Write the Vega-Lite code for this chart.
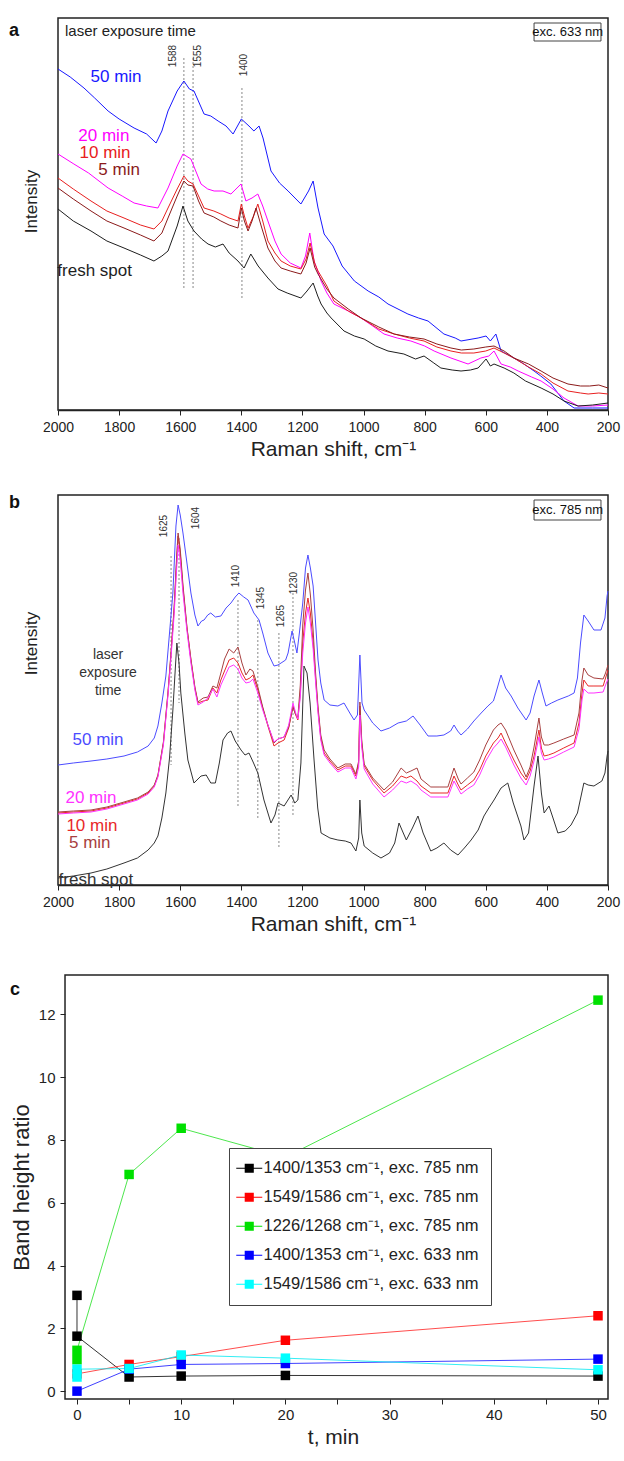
{
"$schema":"https://vega.github.io/schema/vega-lite/v6.json",
"background":"white",
"padding":{"left":8,"top":17,"right":4,"bottom":0},
"config":{"font":"Liberation Sans","view":{"stroke":"#222","strokeWidth":1.5},
 "axis":{"grid":false,"domainColor":"#222","tickColor":"#222","labelColor":"#222","titleColor":"#222","titleFontWeight":"normal","labelFont":"Liberation Sans","titleFont":"Liberation Sans","domainWidth":1.5},
 "text":{"font":"Liberation Sans"}},
"datasets":{
"aS":[
{"s":"50 min","w":2000,"i":341},{"s":"50 min","w":1960,"i":333},{"s":"50 min","w":1915,"i":322},{"s":"50 min","w":1880,"i":312},{"s":"50 min","w":1836,"i":299},{"s":"50 min","w":1800,"i":291},{"s":"50 min","w":1751,"i":282},{"s":"50 min","w":1710,"i":276},{"s":"50 min","w":1679,"i":267},{"s":"50 min","w":1660,"i":279},{"s":"50 min","w":1640,"i":299},{"s":"50 min","w":1610,"i":319},{"s":"50 min","w":1588,"i":329},{"s":"50 min","w":1570,"i":321},{"s":"50 min","w":1555,"i":319},{"s":"50 min","w":1522,"i":296},{"s":"50 min","w":1500,"i":294},{"s":"50 min","w":1476,"i":289},{"s":"50 min","w":1450,"i":284},{"s":"50 min","w":1427,"i":276},{"s":"50 min","w":1400,"i":291},{"s":"50 min","w":1375,"i":284},{"s":"50 min","w":1359,"i":279},{"s":"50 min","w":1342,"i":284},{"s":"50 min","w":1329,"i":272},{"s":"50 min","w":1303,"i":239},{"s":"50 min","w":1275,"i":227},{"s":"50 min","w":1247,"i":219},{"s":"50 min","w":1205,"i":206},{"s":"50 min","w":1180,"i":219},{"s":"50 min","w":1165,"i":229},{"s":"50 min","w":1149,"i":202},{"s":"50 min","w":1129,"i":176},{"s":"50 min","w":1100,"i":164},{"s":"50 min","w":1070,"i":144},{"s":"50 min","w":1030,"i":129},{"s":"50 min","w":985,"i":119},{"s":"50 min","w":950,"i":113},{"s":"50 min","w":920,"i":106},{"s":"50 min","w":855,"i":96},{"s":"50 min","w":820,"i":92},{"s":"50 min","w":789,"i":89},{"s":"50 min","w":737,"i":76},{"s":"50 min","w":700,"i":72},{"s":"50 min","w":681,"i":69},{"s":"50 min","w":625,"i":72},{"s":"50 min","w":599,"i":74},{"s":"50 min","w":585,"i":69},{"s":"50 min","w":567,"i":76},{"s":"50 min","w":550,"i":59},{"s":"50 min","w":508,"i":52},{"s":"50 min","w":480,"i":47},{"s":"50 min","w":442,"i":39},{"s":"50 min","w":420,"i":34},{"s":"50 min","w":387,"i":26},{"s":"50 min","w":344,"i":9},{"s":"50 min","w":311,"i":2},{"s":"50 min","w":250,"i":2},{"s":"50 min","w":200,"i":2},
{"s":"20 min","w":2000,"i":256},{"s":"20 min","w":1948,"i":246},{"s":"20 min","w":1900,"i":237},{"s":"20 min","w":1836,"i":222},{"s":"20 min","w":1790,"i":214},{"s":"20 min","w":1751,"i":207},{"s":"20 min","w":1710,"i":204},{"s":"20 min","w":1673,"i":202},{"s":"20 min","w":1640,"i":222},{"s":"20 min","w":1610,"i":244},{"s":"20 min","w":1591,"i":256},{"s":"20 min","w":1565,"i":251},{"s":"20 min","w":1532,"i":226},{"s":"20 min","w":1510,"i":221},{"s":"20 min","w":1489,"i":219},{"s":"20 min","w":1460,"i":219},{"s":"20 min","w":1434,"i":216},{"s":"20 min","w":1401,"i":226},{"s":"20 min","w":1385,"i":209},{"s":"20 min","w":1365,"i":212},{"s":"20 min","w":1346,"i":216},{"s":"20 min","w":1330,"i":204},{"s":"20 min","w":1313,"i":189},{"s":"20 min","w":1290,"i":169},{"s":"20 min","w":1270,"i":156},{"s":"20 min","w":1240,"i":147},{"s":"20 min","w":1205,"i":142},{"s":"20 min","w":1190,"i":154},{"s":"20 min","w":1176,"i":177},{"s":"20 min","w":1162,"i":149},{"s":"20 min","w":1139,"i":129},{"s":"20 min","w":1120,"i":117},{"s":"20 min","w":1097,"i":106},{"s":"20 min","w":1050,"i":99},{"s":"20 min","w":1008,"i":92},{"s":"20 min","w":970,"i":84},{"s":"20 min","w":933,"i":76},{"s":"20 min","w":890,"i":72},{"s":"20 min","w":845,"i":69},{"s":"20 min","w":800,"i":64},{"s":"20 min","w":769,"i":59},{"s":"20 min","w":714,"i":52},{"s":"20 min","w":658,"i":46},{"s":"20 min","w":616,"i":52},{"s":"20 min","w":590,"i":54},{"s":"20 min","w":573,"i":59},{"s":"20 min","w":550,"i":46},{"s":"20 min","w":520,"i":43},{"s":"20 min","w":494,"i":39},{"s":"20 min","w":450,"i":33},{"s":"20 min","w":419,"i":29},{"s":"20 min","w":380,"i":21},{"s":"20 min","w":344,"i":12},{"s":"20 min","w":298,"i":4},{"s":"20 min","w":250,"i":4},{"s":"20 min","w":200,"i":5},
{"s":"10 min","w":2000,"i":232},{"s":"10 min","w":1950,"i":221},{"s":"10 min","w":1892,"i":209},{"s":"10 min","w":1840,"i":199},{"s":"10 min","w":1784,"i":192},{"s":"10 min","w":1730,"i":185},{"s":"10 min","w":1686,"i":181},{"s":"10 min","w":1660,"i":189},{"s":"10 min","w":1640,"i":202},{"s":"10 min","w":1610,"i":221},{"s":"10 min","w":1588,"i":234},{"s":"10 min","w":1575,"i":229},{"s":"10 min","w":1558,"i":226},{"s":"10 min","w":1540,"i":214},{"s":"10 min","w":1522,"i":202},{"s":"10 min","w":1490,"i":199},{"s":"10 min","w":1467,"i":196},{"s":"10 min","w":1440,"i":192},{"s":"10 min","w":1411,"i":189},{"s":"10 min","w":1400,"i":206},{"s":"10 min","w":1390,"i":194},{"s":"10 min","w":1378,"i":182},{"s":"10 min","w":1360,"i":194},{"s":"10 min","w":1346,"i":206},{"s":"10 min","w":1330,"i":189},{"s":"10 min","w":1313,"i":169},{"s":"10 min","w":1290,"i":157},{"s":"10 min","w":1270,"i":149},{"s":"10 min","w":1240,"i":144},{"s":"10 min","w":1205,"i":141},{"s":"10 min","w":1188,"i":151},{"s":"10 min","w":1175,"i":167},{"s":"10 min","w":1160,"i":147},{"s":"10 min","w":1149,"i":139},{"s":"10 min","w":1120,"i":124},{"s":"10 min","w":1097,"i":109},{"s":"10 min","w":1050,"i":99},{"s":"10 min","w":1008,"i":92},{"s":"10 min","w":950,"i":81},{"s":"10 min","w":900,"i":76},{"s":"10 min","w":850,"i":72},{"s":"10 min","w":802,"i":69},{"s":"10 min","w":760,"i":63},{"s":"10 min","w":714,"i":59},{"s":"10 min","w":680,"i":57},{"s":"10 min","w":639,"i":57},{"s":"10 min","w":600,"i":59},{"s":"10 min","w":573,"i":62},{"s":"10 min","w":540,"i":57},{"s":"10 min","w":508,"i":52},{"s":"10 min","w":460,"i":43},{"s":"10 min","w":419,"i":36},{"s":"10 min","w":380,"i":27},{"s":"10 min","w":331,"i":19},{"s":"10 min","w":290,"i":17},{"s":"10 min","w":265,"i":16},{"s":"10 min","w":230,"i":17},{"s":"10 min","w":200,"i":16},
{"s":"5 min","w":2000,"i":222},{"s":"5 min","w":1950,"i":211},{"s":"5 min","w":1892,"i":199},{"s":"5 min","w":1840,"i":189},{"s":"5 min","w":1784,"i":182},{"s":"5 min","w":1730,"i":175},{"s":"5 min","w":1686,"i":169},{"s":"5 min","w":1660,"i":177},{"s":"5 min","w":1640,"i":192},{"s":"5 min","w":1610,"i":214},{"s":"5 min","w":1588,"i":229},{"s":"5 min","w":1575,"i":225},{"s":"5 min","w":1558,"i":224},{"s":"5 min","w":1540,"i":209},{"s":"5 min","w":1522,"i":197},{"s":"5 min","w":1490,"i":193},{"s":"5 min","w":1467,"i":189},{"s":"5 min","w":1440,"i":185},{"s":"5 min","w":1411,"i":182},{"s":"5 min","w":1400,"i":202},{"s":"5 min","w":1390,"i":189},{"s":"5 min","w":1378,"i":179},{"s":"5 min","w":1365,"i":189},{"s":"5 min","w":1352,"i":202},{"s":"5 min","w":1335,"i":184},{"s":"5 min","w":1313,"i":162},{"s":"5 min","w":1290,"i":149},{"s":"5 min","w":1270,"i":142},{"s":"5 min","w":1240,"i":139},{"s":"5 min","w":1205,"i":136},{"s":"5 min","w":1188,"i":147},{"s":"5 min","w":1175,"i":162},{"s":"5 min","w":1160,"i":143},{"s":"5 min","w":1149,"i":136},{"s":"5 min","w":1120,"i":121},{"s":"5 min","w":1097,"i":112},{"s":"5 min","w":1050,"i":101},{"s":"5 min","w":1008,"i":92},{"s":"5 min","w":950,"i":83},{"s":"5 min","w":900,"i":76},{"s":"5 min","w":850,"i":73},{"s":"5 min","w":802,"i":71},{"s":"5 min","w":760,"i":66},{"s":"5 min","w":714,"i":62},{"s":"5 min","w":680,"i":60},{"s":"5 min","w":639,"i":61},{"s":"5 min","w":600,"i":63},{"s":"5 min","w":573,"i":64},{"s":"5 min","w":540,"i":59},{"s":"5 min","w":508,"i":52},{"s":"5 min","w":460,"i":46},{"s":"5 min","w":419,"i":39},{"s":"5 min","w":380,"i":32},{"s":"5 min","w":331,"i":26},{"s":"5 min","w":290,"i":24},{"s":"5 min","w":260,"i":24},{"s":"5 min","w":230,"i":25},{"s":"5 min","w":200,"i":22},
{"s":"fresh spot","w":2000,"i":201},{"s":"fresh spot","w":1950,"i":189},{"s":"fresh spot","w":1892,"i":179},{"s":"fresh spot","w":1840,"i":169},{"s":"fresh spot","w":1784,"i":162},{"s":"fresh spot","w":1730,"i":155},{"s":"fresh spot","w":1686,"i":149},{"s":"fresh spot","w":1660,"i":154},{"s":"fresh spot","w":1640,"i":159},{"s":"fresh spot","w":1610,"i":184},{"s":"fresh spot","w":1591,"i":204},{"s":"fresh spot","w":1575,"i":189},{"s":"fresh spot","w":1555,"i":179},{"s":"fresh spot","w":1530,"i":171},{"s":"fresh spot","w":1509,"i":166},{"s":"fresh spot","w":1485,"i":163},{"s":"fresh spot","w":1460,"i":166},{"s":"fresh spot","w":1440,"i":157},{"s":"fresh spot","w":1411,"i":149},{"s":"fresh spot","w":1391,"i":142},{"s":"fresh spot","w":1369,"i":156},{"s":"fresh spot","w":1345,"i":144},{"s":"fresh spot","w":1313,"i":132},{"s":"fresh spot","w":1280,"i":121},{"s":"fresh spot","w":1250,"i":117},{"s":"fresh spot","w":1205,"i":112},{"s":"fresh spot","w":1185,"i":119},{"s":"fresh spot","w":1165,"i":127},{"s":"fresh spot","w":1150,"i":114},{"s":"fresh spot","w":1139,"i":106},{"s":"fresh spot","w":1120,"i":97},{"s":"fresh spot","w":1106,"i":92},{"s":"fresh spot","w":1064,"i":79},{"s":"fresh spot","w":1030,"i":74},{"s":"fresh spot","w":998,"i":71},{"s":"fresh spot","w":960,"i":64},{"s":"fresh spot","w":920,"i":59},{"s":"fresh spot","w":868,"i":56},{"s":"fresh spot","w":830,"i":51},{"s":"fresh spot","w":802,"i":54},{"s":"fresh spot","w":770,"i":47},{"s":"fresh spot","w":747,"i":42},{"s":"fresh spot","w":710,"i":40},{"s":"fresh spot","w":681,"i":39},{"s":"fresh spot","w":650,"i":40},{"s":"fresh spot","w":625,"i":42},{"s":"fresh spot","w":599,"i":51},{"s":"fresh spot","w":585,"i":44},{"s":"fresh spot","w":573,"i":46},{"s":"fresh spot","w":540,"i":42},{"s":"fresh spot","w":508,"i":37},{"s":"fresh spot","w":470,"i":29},{"s":"fresh spot","w":419,"i":22},{"s":"fresh spot","w":380,"i":16},{"s":"fresh spot","w":344,"i":9},{"s":"fresh spot","w":298,"i":4},{"s":"fresh spot","w":250,"i":5},{"s":"fresh spot","w":200,"i":7}
],
"bS":[
{"s":"50 min","w":2000,"i":120},{"s":"50 min","w":1950,"i":122},{"s":"50 min","w":1892,"i":124},{"s":"50 min","w":1840,"i":126},{"s":"50 min","w":1784,"i":129},{"s":"50 min","w":1740,"i":133},{"s":"50 min","w":1705,"i":139},{"s":"50 min","w":1685,"i":147},{"s":"50 min","w":1673,"i":159},{"s":"50 min","w":1660,"i":182},{"s":"50 min","w":1647,"i":209},{"s":"50 min","w":1635,"i":252},{"s":"50 min","w":1624,"i":292},{"s":"50 min","w":1614,"i":359},{"s":"50 min","w":1607,"i":380},{"s":"50 min","w":1600,"i":370},{"s":"50 min","w":1591,"i":352},{"s":"50 min","w":1578,"i":322},{"s":"50 min","w":1565,"i":292},{"s":"50 min","w":1552,"i":270},{"s":"50 min","w":1542,"i":259},{"s":"50 min","w":1530,"i":264},{"s":"50 min","w":1522,"i":265},{"s":"50 min","w":1510,"i":270},{"s":"50 min","w":1500,"i":272},{"s":"50 min","w":1485,"i":268},{"s":"50 min","w":1467,"i":269},{"s":"50 min","w":1450,"i":277},{"s":"50 min","w":1434,"i":282},{"s":"50 min","w":1420,"i":288},{"s":"50 min","w":1408,"i":292},{"s":"50 min","w":1392,"i":288},{"s":"50 min","w":1378,"i":285},{"s":"50 min","w":1359,"i":272},{"s":"50 min","w":1342,"i":265},{"s":"50 min","w":1330,"i":252},{"s":"50 min","w":1313,"i":232},{"s":"50 min","w":1293,"i":219},{"s":"50 min","w":1280,"i":220},{"s":"50 min","w":1270,"i":222},{"s":"50 min","w":1255,"i":225},{"s":"50 min","w":1247,"i":232},{"s":"50 min","w":1234,"i":254},{"s":"50 min","w":1225,"i":242},{"s":"50 min","w":1218,"i":232},{"s":"50 min","w":1210,"i":252},{"s":"50 min","w":1199,"i":282},{"s":"50 min","w":1190,"i":317},{"s":"50 min","w":1182,"i":330},{"s":"50 min","w":1174,"i":317},{"s":"50 min","w":1165,"i":299},{"s":"50 min","w":1157,"i":262},{"s":"50 min","w":1149,"i":225},{"s":"50 min","w":1140,"i":202},{"s":"50 min","w":1129,"i":185},{"s":"50 min","w":1110,"i":180},{"s":"50 min","w":1084,"i":179},{"s":"50 min","w":1064,"i":182},{"s":"50 min","w":1045,"i":172},{"s":"50 min","w":1031,"i":165},{"s":"50 min","w":1020,"i":170},{"s":"50 min","w":1012,"i":230},{"s":"50 min","w":1005,"i":182},{"s":"50 min","w":998,"i":175},{"s":"50 min","w":970,"i":162},{"s":"50 min","w":943,"i":154},{"s":"50 min","w":915,"i":157},{"s":"50 min","w":887,"i":162},{"s":"50 min","w":860,"i":164},{"s":"50 min","w":838,"i":169},{"s":"50 min","w":815,"i":160},{"s":"50 min","w":789,"i":149},{"s":"50 min","w":760,"i":149},{"s":"50 min","w":737,"i":150},{"s":"50 min","w":715,"i":154},{"s":"50 min","w":704,"i":160},{"s":"50 min","w":692,"i":154},{"s":"50 min","w":681,"i":150},{"s":"50 min","w":660,"i":156},{"s":"50 min","w":639,"i":164},{"s":"50 min","w":615,"i":172},{"s":"50 min","w":593,"i":179},{"s":"50 min","w":575,"i":184},{"s":"50 min","w":567,"i":192},{"s":"50 min","w":550,"i":210},{"s":"50 min","w":535,"i":197},{"s":"50 min","w":517,"i":189},{"s":"50 min","w":495,"i":177},{"s":"50 min","w":468,"i":165},{"s":"50 min","w":455,"i":172},{"s":"50 min","w":442,"i":189},{"s":"50 min","w":426,"i":205},{"s":"50 min","w":415,"i":192},{"s":"50 min","w":403,"i":179},{"s":"50 min","w":385,"i":182},{"s":"50 min","w":364,"i":185},{"s":"50 min","w":330,"i":189},{"s":"50 min","w":311,"i":192},{"s":"50 min","w":300,"i":207},{"s":"50 min","w":290,"i":242},{"s":"50 min","w":279,"i":270},{"s":"50 min","w":265,"i":264},{"s":"50 min","w":246,"i":255},{"s":"50 min","w":223,"i":255},{"s":"50 min","w":210,"i":267},{"s":"50 min","w":203,"i":289},{"s":"50 min","w":200,"i":294},
{"s":"10 min","w":2000,"i":72},{"s":"10 min","w":1950,"i":73},{"s":"10 min","w":1892,"i":74},{"s":"10 min","w":1840,"i":77},{"s":"10 min","w":1784,"i":82},{"s":"10 min","w":1740,"i":86},{"s":"10 min","w":1705,"i":92},{"s":"10 min","w":1685,"i":99},{"s":"10 min","w":1673,"i":109},{"s":"10 min","w":1655,"i":142},{"s":"10 min","w":1640,"i":192},{"s":"10 min","w":1630,"i":232},{"s":"10 min","w":1620,"i":275},{"s":"10 min","w":1612,"i":322},{"s":"10 min","w":1607,"i":349},{"s":"10 min","w":1600,"i":332},{"s":"10 min","w":1591,"i":297},{"s":"10 min","w":1578,"i":257},{"s":"10 min","w":1565,"i":225},{"s":"10 min","w":1552,"i":197},{"s":"10 min","w":1542,"i":182},{"s":"10 min","w":1525,"i":184},{"s":"10 min","w":1509,"i":185},{"s":"10 min","w":1493,"i":197},{"s":"10 min","w":1480,"i":192},{"s":"10 min","w":1467,"i":205},{"s":"10 min","w":1455,"i":214},{"s":"10 min","w":1440,"i":225},{"s":"10 min","w":1425,"i":227},{"s":"10 min","w":1411,"i":222},{"s":"10 min","w":1398,"i":212},{"s":"10 min","w":1385,"i":205},{"s":"10 min","w":1372,"i":207},{"s":"10 min","w":1362,"i":210},{"s":"10 min","w":1346,"i":195},{"s":"10 min","w":1330,"i":177},{"s":"10 min","w":1313,"i":159},{"s":"10 min","w":1293,"i":139},{"s":"10 min","w":1280,"i":142},{"s":"10 min","w":1260,"i":145},{"s":"10 min","w":1245,"i":157},{"s":"10 min","w":1231,"i":179},{"s":"10 min","w":1222,"i":170},{"s":"10 min","w":1215,"i":165},{"s":"10 min","w":1207,"i":192},{"s":"10 min","w":1199,"i":242},{"s":"10 min","w":1190,"i":272},{"s":"10 min","w":1182,"i":287},{"s":"10 min","w":1174,"i":272},{"s":"10 min","w":1165,"i":242},{"s":"10 min","w":1157,"i":207},{"s":"10 min","w":1149,"i":175},{"s":"10 min","w":1140,"i":147},{"s":"10 min","w":1129,"i":132},{"s":"10 min","w":1110,"i":124},{"s":"10 min","w":1084,"i":115},{"s":"10 min","w":1060,"i":119},{"s":"10 min","w":1041,"i":119},{"s":"10 min","w":1025,"i":109},{"s":"10 min","w":1016,"i":122},{"s":"10 min","w":1012,"i":179},{"s":"10 min","w":1006,"i":142},{"s":"10 min","w":998,"i":119},{"s":"10 min","w":970,"i":105},{"s":"10 min","w":933,"i":92},{"s":"10 min","w":905,"i":99},{"s":"10 min","w":877,"i":109},{"s":"10 min","w":860,"i":107},{"s":"10 min","w":845,"i":109},{"s":"10 min","w":825,"i":104},{"s":"10 min","w":812,"i":99},{"s":"10 min","w":780,"i":92},{"s":"10 min","w":750,"i":92},{"s":"10 min","w":724,"i":92},{"s":"10 min","w":704,"i":109},{"s":"10 min","w":690,"i":100},{"s":"10 min","w":681,"i":95},{"s":"10 min","w":660,"i":100},{"s":"10 min","w":639,"i":105},{"s":"10 min","w":620,"i":115},{"s":"10 min","w":600,"i":129},{"s":"10 min","w":575,"i":142},{"s":"10 min","w":560,"i":147},{"s":"10 min","w":550,"i":152},{"s":"10 min","w":535,"i":142},{"s":"10 min","w":508,"i":125},{"s":"10 min","w":485,"i":112},{"s":"10 min","w":468,"i":105},{"s":"10 min","w":455,"i":114},{"s":"10 min","w":442,"i":129},{"s":"10 min","w":426,"i":155},{"s":"10 min","w":418,"i":137},{"s":"10 min","w":409,"i":129},{"s":"10 min","w":395,"i":130},{"s":"10 min","w":377,"i":132},{"s":"10 min","w":345,"i":137},{"s":"10 min","w":311,"i":142},{"s":"10 min","w":295,"i":162},{"s":"10 min","w":285,"i":192},{"s":"10 min","w":279,"i":205},{"s":"10 min","w":265,"i":199},{"s":"10 min","w":246,"i":199},{"s":"10 min","w":216,"i":199},{"s":"10 min","w":208,"i":207},{"s":"10 min","w":200,"i":215},
{"s":"5 min","w":2000,"i":73},{"s":"5 min","w":1950,"i":74},{"s":"5 min","w":1892,"i":75},{"s":"5 min","w":1840,"i":78},{"s":"5 min","w":1784,"i":83},{"s":"5 min","w":1740,"i":87},{"s":"5 min","w":1705,"i":93},{"s":"5 min","w":1685,"i":100},{"s":"5 min","w":1673,"i":110},{"s":"5 min","w":1655,"i":143},{"s":"5 min","w":1640,"i":193},{"s":"5 min","w":1630,"i":233},{"s":"5 min","w":1620,"i":278},{"s":"5 min","w":1612,"i":327},{"s":"5 min","w":1607,"i":352},{"s":"5 min","w":1600,"i":336},{"s":"5 min","w":1591,"i":300},{"s":"5 min","w":1578,"i":258},{"s":"5 min","w":1565,"i":226},{"s":"5 min","w":1552,"i":198},{"s":"5 min","w":1542,"i":183},{"s":"5 min","w":1525,"i":187},{"s":"5 min","w":1509,"i":188},{"s":"5 min","w":1493,"i":199},{"s":"5 min","w":1480,"i":197},{"s":"5 min","w":1467,"i":212},{"s":"5 min","w":1455,"i":226},{"s":"5 min","w":1440,"i":236},{"s":"5 min","w":1425,"i":232},{"s":"5 min","w":1411,"i":238},{"s":"5 min","w":1398,"i":222},{"s":"5 min","w":1385,"i":210},{"s":"5 min","w":1372,"i":216},{"s":"5 min","w":1362,"i":214},{"s":"5 min","w":1346,"i":198},{"s":"5 min","w":1330,"i":178},{"s":"5 min","w":1313,"i":160},{"s":"5 min","w":1293,"i":142},{"s":"5 min","w":1280,"i":146},{"s":"5 min","w":1260,"i":148},{"s":"5 min","w":1245,"i":158},{"s":"5 min","w":1231,"i":178},{"s":"5 min","w":1222,"i":170},{"s":"5 min","w":1215,"i":168},{"s":"5 min","w":1207,"i":200},{"s":"5 min","w":1199,"i":260},{"s":"5 min","w":1190,"i":295},{"s":"5 min","w":1182,"i":312},{"s":"5 min","w":1174,"i":290},{"s":"5 min","w":1165,"i":255},{"s":"5 min","w":1157,"i":212},{"s":"5 min","w":1149,"i":178},{"s":"5 min","w":1140,"i":150},{"s":"5 min","w":1129,"i":135},{"s":"5 min","w":1110,"i":126},{"s":"5 min","w":1084,"i":117},{"s":"5 min","w":1060,"i":121},{"s":"5 min","w":1041,"i":121},{"s":"5 min","w":1025,"i":111},{"s":"5 min","w":1016,"i":124},{"s":"5 min","w":1012,"i":183},{"s":"5 min","w":1006,"i":145},{"s":"5 min","w":998,"i":121},{"s":"5 min","w":970,"i":107},{"s":"5 min","w":933,"i":95},{"s":"5 min","w":905,"i":103},{"s":"5 min","w":877,"i":117},{"s":"5 min","w":860,"i":112},{"s":"5 min","w":845,"i":114},{"s":"5 min","w":825,"i":117},{"s":"5 min","w":812,"i":106},{"s":"5 min","w":780,"i":98},{"s":"5 min","w":750,"i":98},{"s":"5 min","w":724,"i":98},{"s":"5 min","w":704,"i":117},{"s":"5 min","w":690,"i":106},{"s":"5 min","w":681,"i":101},{"s":"5 min","w":660,"i":107},{"s":"5 min","w":639,"i":113},{"s":"5 min","w":620,"i":125},{"s":"5 min","w":600,"i":140},{"s":"5 min","w":575,"i":155},{"s":"5 min","w":560,"i":160},{"s":"5 min","w":550,"i":162},{"s":"5 min","w":535,"i":155},{"s":"5 min","w":508,"i":135},{"s":"5 min","w":485,"i":120},{"s":"5 min","w":468,"i":108},{"s":"5 min","w":455,"i":118},{"s":"5 min","w":442,"i":138},{"s":"5 min","w":426,"i":167},{"s":"5 min","w":418,"i":148},{"s":"5 min","w":409,"i":140},{"s":"5 min","w":395,"i":140},{"s":"5 min","w":377,"i":142},{"s":"5 min","w":345,"i":146},{"s":"5 min","w":311,"i":150},{"s":"5 min","w":295,"i":172},{"s":"5 min","w":285,"i":205},{"s":"5 min","w":279,"i":217},{"s":"5 min","w":265,"i":210},{"s":"5 min","w":246,"i":207},{"s":"5 min","w":216,"i":206},{"s":"5 min","w":208,"i":212},{"s":"5 min","w":200,"i":220},
{"s":"20 min","w":2000,"i":71},{"s":"20 min","w":1950,"i":72},{"s":"20 min","w":1892,"i":73},{"s":"20 min","w":1840,"i":76},{"s":"20 min","w":1784,"i":81},{"s":"20 min","w":1740,"i":85},{"s":"20 min","w":1705,"i":91},{"s":"20 min","w":1685,"i":98},{"s":"20 min","w":1673,"i":108},{"s":"20 min","w":1655,"i":140},{"s":"20 min","w":1640,"i":190},{"s":"20 min","w":1630,"i":228},{"s":"20 min","w":1620,"i":270},{"s":"20 min","w":1612,"i":315},{"s":"20 min","w":1607,"i":340},{"s":"20 min","w":1600,"i":325},{"s":"20 min","w":1591,"i":292},{"s":"20 min","w":1578,"i":254},{"s":"20 min","w":1565,"i":222},{"s":"20 min","w":1552,"i":195},{"s":"20 min","w":1542,"i":180},{"s":"20 min","w":1525,"i":183},{"s":"20 min","w":1509,"i":187},{"s":"20 min","w":1493,"i":196},{"s":"20 min","w":1480,"i":188},{"s":"20 min","w":1467,"i":200},{"s":"20 min","w":1455,"i":208},{"s":"20 min","w":1440,"i":218},{"s":"20 min","w":1425,"i":220},{"s":"20 min","w":1411,"i":216},{"s":"20 min","w":1398,"i":207},{"s":"20 min","w":1385,"i":202},{"s":"20 min","w":1372,"i":203},{"s":"20 min","w":1362,"i":206},{"s":"20 min","w":1346,"i":192},{"s":"20 min","w":1330,"i":175},{"s":"20 min","w":1313,"i":160},{"s":"20 min","w":1293,"i":143},{"s":"20 min","w":1280,"i":146},{"s":"20 min","w":1260,"i":148},{"s":"20 min","w":1245,"i":160},{"s":"20 min","w":1231,"i":182},{"s":"20 min","w":1222,"i":172},{"s":"20 min","w":1215,"i":166},{"s":"20 min","w":1207,"i":188},{"s":"20 min","w":1199,"i":232},{"s":"20 min","w":1190,"i":262},{"s":"20 min","w":1182,"i":278},{"s":"20 min","w":1174,"i":262},{"s":"20 min","w":1165,"i":236},{"s":"20 min","w":1157,"i":203},{"s":"20 min","w":1149,"i":172},{"s":"20 min","w":1140,"i":145},{"s":"20 min","w":1129,"i":130},{"s":"20 min","w":1110,"i":122},{"s":"20 min","w":1084,"i":113},{"s":"20 min","w":1060,"i":117},{"s":"20 min","w":1041,"i":117},{"s":"20 min","w":1025,"i":106},{"s":"20 min","w":1016,"i":118},{"s":"20 min","w":1012,"i":170},{"s":"20 min","w":1006,"i":138},{"s":"20 min","w":998,"i":116},{"s":"20 min","w":970,"i":101},{"s":"20 min","w":933,"i":88},{"s":"20 min","w":905,"i":95},{"s":"20 min","w":877,"i":104},{"s":"20 min","w":860,"i":102},{"s":"20 min","w":845,"i":104},{"s":"20 min","w":825,"i":100},{"s":"20 min","w":812,"i":95},{"s":"20 min","w":780,"i":88},{"s":"20 min","w":750,"i":88},{"s":"20 min","w":724,"i":88},{"s":"20 min","w":704,"i":104},{"s":"20 min","w":690,"i":96},{"s":"20 min","w":681,"i":91},{"s":"20 min","w":660,"i":96},{"s":"20 min","w":639,"i":100},{"s":"20 min","w":620,"i":110},{"s":"20 min","w":600,"i":124},{"s":"20 min","w":575,"i":137},{"s":"20 min","w":560,"i":142},{"s":"20 min","w":550,"i":146},{"s":"20 min","w":535,"i":138},{"s":"20 min","w":508,"i":120},{"s":"20 min","w":485,"i":107},{"s":"20 min","w":468,"i":100},{"s":"20 min","w":455,"i":109},{"s":"20 min","w":442,"i":124},{"s":"20 min","w":426,"i":148},{"s":"20 min","w":418,"i":132},{"s":"20 min","w":409,"i":125},{"s":"20 min","w":395,"i":126},{"s":"20 min","w":377,"i":128},{"s":"20 min","w":345,"i":133},{"s":"20 min","w":311,"i":138},{"s":"20 min","w":295,"i":156},{"s":"20 min","w":285,"i":185},{"s":"20 min","w":279,"i":196},{"s":"20 min","w":265,"i":192},{"s":"20 min","w":246,"i":192},{"s":"20 min","w":216,"i":193},{"s":"20 min","w":208,"i":200},{"s":"20 min","w":200,"i":206},
{"s":"fresh spot","w":2000,"i":7},{"s":"fresh spot","w":1950,"i":9},{"s":"fresh spot","w":1892,"i":12},{"s":"fresh spot","w":1840,"i":16},{"s":"fresh spot","w":1784,"i":22},{"s":"fresh spot","w":1740,"i":27},{"s":"fresh spot","w":1705,"i":35},{"s":"fresh spot","w":1685,"i":42},{"s":"fresh spot","w":1673,"i":49},{"s":"fresh spot","w":1660,"i":67},{"s":"fresh spot","w":1647,"i":92},{"s":"fresh spot","w":1635,"i":127},{"s":"fresh spot","w":1624,"i":175},{"s":"fresh spot","w":1616,"i":217},{"s":"fresh spot","w":1611,"i":242},{"s":"fresh spot","w":1604,"i":222},{"s":"fresh spot","w":1598,"i":192},{"s":"fresh spot","w":1585,"i":152},{"s":"fresh spot","w":1575,"i":125},{"s":"fresh spot","w":1555,"i":102},{"s":"fresh spot","w":1532,"i":109},{"s":"fresh spot","w":1515,"i":110},{"s":"fresh spot","w":1500,"i":102},{"s":"fresh spot","w":1485,"i":102},{"s":"fresh spot","w":1472,"i":122},{"s":"fresh spot","w":1460,"i":145},{"s":"fresh spot","w":1445,"i":152},{"s":"fresh spot","w":1434,"i":154},{"s":"fresh spot","w":1420,"i":144},{"s":"fresh spot","w":1401,"i":135},{"s":"fresh spot","w":1388,"i":130},{"s":"fresh spot","w":1375,"i":132},{"s":"fresh spot","w":1360,"i":122},{"s":"fresh spot","w":1346,"i":112},{"s":"fresh spot","w":1326,"i":85},{"s":"fresh spot","w":1303,"i":62},{"s":"fresh spot","w":1290,"i":70},{"s":"fresh spot","w":1280,"i":82},{"s":"fresh spot","w":1260,"i":79},{"s":"fresh spot","w":1237,"i":90},{"s":"fresh spot","w":1225,"i":82},{"s":"fresh spot","w":1215,"i":85},{"s":"fresh spot","w":1205,"i":122},{"s":"fresh spot","w":1195,"i":219},{"s":"fresh spot","w":1185,"i":212},{"s":"fresh spot","w":1175,"i":182},{"s":"fresh spot","w":1162,"i":125},{"s":"fresh spot","w":1150,"i":77},{"s":"fresh spot","w":1139,"i":52},{"s":"fresh spot","w":1110,"i":47},{"s":"fresh spot","w":1084,"i":45},{"s":"fresh spot","w":1060,"i":44},{"s":"fresh spot","w":1041,"i":42},{"s":"fresh spot","w":1025,"i":34},{"s":"fresh spot","w":1016,"i":47},{"s":"fresh spot","w":1012,"i":85},{"s":"fresh spot","w":1006,"i":52},{"s":"fresh spot","w":998,"i":39},{"s":"fresh spot","w":970,"i":32},{"s":"fresh spot","w":943,"i":27},{"s":"fresh spot","w":915,"i":32},{"s":"fresh spot","w":898,"i":42},{"s":"fresh spot","w":884,"i":62},{"s":"fresh spot","w":870,"i":52},{"s":"fresh spot","w":860,"i":45},{"s":"fresh spot","w":840,"i":57},{"s":"fresh spot","w":822,"i":69},{"s":"fresh spot","w":805,"i":52},{"s":"fresh spot","w":780,"i":34},{"s":"fresh spot","w":760,"i":37},{"s":"fresh spot","w":737,"i":42},{"s":"fresh spot","w":715,"i":35},{"s":"fresh spot","w":691,"i":30},{"s":"fresh spot","w":670,"i":37},{"s":"fresh spot","w":648,"i":45},{"s":"fresh spot","w":625,"i":55},{"s":"fresh spot","w":606,"i":69},{"s":"fresh spot","w":590,"i":77},{"s":"fresh spot","w":573,"i":85},{"s":"fresh spot","w":550,"i":97},{"s":"fresh spot","w":528,"i":102},{"s":"fresh spot","w":510,"i":82},{"s":"fresh spot","w":485,"i":59},{"s":"fresh spot","w":475,"i":45},{"s":"fresh spot","w":460,"i":52},{"s":"fresh spot","w":442,"i":99},{"s":"fresh spot","w":429,"i":129},{"s":"fresh spot","w":418,"i":92},{"s":"fresh spot","w":409,"i":72},{"s":"fresh spot","w":393,"i":79},{"s":"fresh spot","w":380,"i":67},{"s":"fresh spot","w":364,"i":52},{"s":"fresh spot","w":340,"i":54},{"s":"fresh spot","w":321,"i":60},{"s":"fresh spot","w":300,"i":72},{"s":"fresh spot","w":279,"i":102},{"s":"fresh spot","w":265,"i":100},{"s":"fresh spot","w":246,"i":99},{"s":"fresh spot","w":220,"i":104},{"s":"fresh spot","w":210,"i":112},{"s":"fresh spot","w":203,"i":129},{"s":"fresh spot","w":200,"i":134}
],
"aL":[{"s":"50 min","w":1810,"i":333},{"s":"20 min","w":1850,"i":274},{"s":"10 min","w":1846,"i":257},{"s":"5 min","w":1800,"i":240},{"s":"fresh spot","w":1880,"i":139}],
"bL":[{"s":"50 min","w":1869,"i":145},{"s":"20 min","w":1892,"i":87},{"s":"10 min","w":1889,"i":59},{"s":"5 min","w":1896,"i":42},{"s":"fresh spot","w":1876,"i":5}],
"aT":[{"t":"laser exposure time","w":1763,"i":379}],
"bT":[{"t":"laser","w":1836,"i":230},{"t":"exposure","w":1836,"i":212},{"t":"time","w":1836,"i":194}],
"aP":[{"t":"1588","w":1624,"i":354},{"t":"1555","w":1542,"i":354},{"t":"1400","w":1391,"i":345}],
"aR":[{"w":1588,"top":352,"bot":122},{"w":1558,"top":352,"bot":122},{"w":1398,"top":322,"bot":112}],
"bP":[{"t":"1625","w":1653,"i":359},{"t":"1604","w":1548,"i":367},{"t":"1410","w":1417,"i":309},{"t":"1345","w":1336,"i":287},{"t":"1265","w":1270,"i":269},{"t":"1230","w":1228,"i":302}],
"bR":[{"w":1630,"top":329,"bot":120},{"w":1604,"top":347,"bot":182},{"w":1411,"top":285,"bot":79},{"w":1346,"top":265,"bot":67},{"w":1277,"top":252,"bot":37},{"w":1231,"top":292,"bot":69}],
"aB":[{"x1":442,"x2":223,"y1":387,"y2":369,"t":"exc. 633 nm","xm":332,"ym":378}],
"bB":[{"x1":442,"x2":223,"y1":385,"y2":365,"t":"exc. 785 nm","xm":332,"ym":375}],
"aK":[{"t":"a","w":2160,"i":379}],
"bK":[{"t":"b","w":2160,"i":382}],
"cK":[{"lab":"c","t":-6.43,"r":12.77}],
"cF":[{"x1":-1.15,"x2":50.96,"y1":-0.25,"y2":13.25}],
"cD":[
{"s":"1400/1353 cm⁻¹, exc. 785 nm","t":0,"r":3.05,"o":0},{"s":"1400/1353 cm⁻¹, exc. 785 nm","t":0,"r":1.75,"o":1},{"s":"1400/1353 cm⁻¹, exc. 785 nm","t":5,"r":0.45,"o":2},{"s":"1400/1353 cm⁻¹, exc. 785 nm","t":10,"r":0.48,"o":3},{"s":"1400/1353 cm⁻¹, exc. 785 nm","t":20,"r":0.5,"o":4},{"s":"1400/1353 cm⁻¹, exc. 785 nm","t":50,"r":0.48,"o":5},
{"s":"1549/1586 cm⁻¹, exc. 785 nm","t":0,"r":0.55,"o":0},{"s":"1549/1586 cm⁻¹, exc. 785 nm","t":5,"r":0.85,"o":1},{"s":"1549/1586 cm⁻¹, exc. 785 nm","t":10,"r":1.1,"o":2},{"s":"1549/1586 cm⁻¹, exc. 785 nm","t":20,"r":1.62,"o":3},{"s":"1549/1586 cm⁻¹, exc. 785 nm","t":50,"r":2.4,"o":4},
{"s":"1226/1268 cm⁻¹, exc. 785 nm","t":0,"r":1.0,"o":0},{"s":"1226/1268 cm⁻¹, exc. 785 nm","t":0,"r":1.3,"o":1},{"s":"1226/1268 cm⁻¹, exc. 785 nm","t":5,"r":6.9,"o":2},{"s":"1226/1268 cm⁻¹, exc. 785 nm","t":10,"r":8.37,"o":3},{"s":"1226/1268 cm⁻¹, exc. 785 nm","t":20,"r":7.45,"o":4},{"s":"1226/1268 cm⁻¹, exc. 785 nm","t":50,"r":12.45,"o":5},
{"s":"1400/1353 cm⁻¹, exc. 633 nm","t":0,"r":0.0,"o":0},{"s":"1400/1353 cm⁻¹, exc. 633 nm","t":5,"r":0.7,"o":1},{"s":"1400/1353 cm⁻¹, exc. 633 nm","t":10,"r":0.85,"o":2},{"s":"1400/1353 cm⁻¹, exc. 633 nm","t":20,"r":0.88,"o":3},{"s":"1400/1353 cm⁻¹, exc. 633 nm","t":50,"r":1.02,"o":4},
{"s":"1549/1586 cm⁻¹, exc. 633 nm","t":0,"r":0.45,"o":0},{"s":"1549/1586 cm⁻¹, exc. 633 nm","t":0,"r":0.7,"o":1},{"s":"1549/1586 cm⁻¹, exc. 633 nm","t":5,"r":0.72,"o":2},{"s":"1549/1586 cm⁻¹, exc. 633 nm","t":10,"r":1.15,"o":3},{"s":"1549/1586 cm⁻¹, exc. 633 nm","t":20,"r":1.05,"o":4},{"s":"1549/1586 cm⁻¹, exc. 633 nm","t":50,"r":0.68,"o":5}
]
},
"concat":[
 {"concat":[
  {"width":550,"height":392,
   "layer":[
    {"data":{"name":"aR"},"mark":{"type":"rule","strokeDash":[2,2],"color":"#888","strokeWidth":1},
     "encoding":{
      "x":{"field":"w","type":"quantitative","scale":{"domain":[200,2000],"reverse":true,"nice":false,"zero":false},
        "axis":{"title":"Raman shift, cm⁻¹","values":[2000,1900,1800,1700,1600,1500,1400,1300,1200,1100,1000,900,800,700,600,500,400,300,200],"labelExpr":"datum.value % 200 === 0 ? datum.label : ''","format":"d","labelFontSize":14,"titleFontSize":21,"tickSize":5,"labelPadding":5,"titlePadding":4,"labelFlush":false,"labelOverlap":false}},
      "y":{"field":"top","type":"quantitative","scale":{"domain":[0,392],"nice":false,"zero":false},
        "axis":{"title":"Intensity","labels":false,"ticks":false,"domain":false,"titleFontSize":17,"titleX":-27,"titleY":183,"titleBaseline":"middle"}},
      "y2":{"field":"bot"}}},
    {"data":{"name":"aS"},"mark":{"type":"line","strokeWidth":1},
     "encoding":{"x":{"field":"w","type":"quantitative"},"y":{"field":"i","type":"quantitative"},
      "stroke":{"field":"s","type":"nominal","scale":{"domain":["fresh spot","5 min","10 min","20 min","50 min"],"range":["#1e1e1e","#8b1a1a","#e82020","#ff00ff","#1818ff"]},"legend":null}}},
    {"data":{"name":"aL"},"mark":{"type":"text","fontSize":17,"align":"center","baseline":"middle"},
     "encoding":{"x":{"field":"w","type":"quantitative"},"y":{"field":"i","type":"quantitative"},"text":{"field":"s"},
      "fill":{"field":"s","type":"nominal","scale":{"domain":["fresh spot","5 min","10 min","20 min","50 min"],"range":["#1e1e1e","#8b1a1a","#e82020","#ff00ff","#1818ff"]},"legend":null}}},
    {"data":{"name":"aT"},"mark":{"type":"text","fontSize":15,"align":"center","baseline":"middle","color":"#222"},
     "encoding":{"x":{"field":"w","type":"quantitative"},"y":{"field":"i","type":"quantitative"},"text":{"field":"t"}}},
    {"data":{"name":"aP"},"mark":{"type":"text","fontSize":10,"angle":270,"align":"center","baseline":"middle","color":"#333"},
     "encoding":{"x":{"field":"w","type":"quantitative"},"y":{"field":"i","type":"quantitative"},"text":{"field":"t"}}},
    {"data":{"name":"aB"},"mark":{"type":"rect","fill":"white","stroke":"#444","strokeWidth":1},
     "encoding":{"x":{"field":"x1","type":"quantitative"},"x2":{"field":"x2"},"y":{"field":"y1","type":"quantitative"},"y2":{"field":"y2"}}},
    {"data":{"name":"aB"},"mark":{"type":"text","fontSize":13,"align":"center","baseline":"middle","color":"#111"},
     "encoding":{"x":{"field":"xm","type":"quantitative"},"y":{"field":"ym","type":"quantitative"},"text":{"field":"t"}}},
    {"data":{"name":"aK"},"mark":{"type":"text","fontSize":18,"fontWeight":"bold","align":"left","baseline":"middle","color":"#111"},
     "encoding":{"x":{"field":"w","type":"quantitative"},"y":{"field":"i","type":"quantitative"},"text":{"field":"t"}}}
   ]},
  {"width":550,"height":390,
   "layer":[
    {"data":{"name":"bR"},"mark":{"type":"rule","strokeDash":[2,2],"color":"#888","strokeWidth":1},
     "encoding":{
      "x":{"field":"w","type":"quantitative","scale":{"domain":[200,2000],"reverse":true,"nice":false,"zero":false},
        "axis":{"title":"Raman shift, cm⁻¹","values":[2000,1900,1800,1700,1600,1500,1400,1300,1200,1100,1000,900,800,700,600,500,400,300,200],"labelExpr":"datum.value % 200 === 0 ? datum.label : ''","format":"d","labelFontSize":14,"titleFontSize":21,"tickSize":5,"labelPadding":5,"titlePadding":4,"labelFlush":false,"labelOverlap":false}},
      "y":{"field":"top","type":"quantitative","scale":{"domain":[0,390],"nice":false,"zero":false},
        "axis":{"title":"Intensity","labels":false,"ticks":false,"domain":false,"titleFontSize":17,"titleX":-27,"titleY":148,"titleBaseline":"middle"}},
      "y2":{"field":"bot"}}},
    {"data":{"name":"bS"},"mark":{"type":"line","strokeWidth":1},
     "encoding":{"x":{"field":"w","type":"quantitative"},"y":{"field":"i","type":"quantitative"},
      "stroke":{"field":"s","type":"nominal","scale":{"domain":["fresh spot","5 min","10 min","20 min","50 min"],"range":["#333333","#a84040","#e82828","#ff33ff","#4c4cff"]},"legend":null}}},
    {"data":{"name":"bL"},"mark":{"type":"text","fontSize":17,"align":"center","baseline":"middle"},
     "encoding":{"x":{"field":"w","type":"quantitative"},"y":{"field":"i","type":"quantitative"},"text":{"field":"s"},
      "fill":{"field":"s","type":"nominal","scale":{"domain":["fresh spot","5 min","10 min","20 min","50 min"],"range":["#333333","#a84040","#e82828","#ff33ff","#4c4cff"]},"legend":null}}},
    {"data":{"name":"bT"},"mark":{"type":"text","fontSize":14,"align":"center","baseline":"middle","color":"#333"},
     "encoding":{"x":{"field":"w","type":"quantitative"},"y":{"field":"i","type":"quantitative"},"text":{"field":"t"}}},
    {"data":{"name":"bP"},"mark":{"type":"text","fontSize":10,"angle":270,"align":"center","baseline":"middle","color":"#333"},
     "encoding":{"x":{"field":"w","type":"quantitative"},"y":{"field":"i","type":"quantitative"},"text":{"field":"t"}}},
    {"data":{"name":"bB"},"mark":{"type":"rect","fill":"white","stroke":"#444","strokeWidth":1},
     "encoding":{"x":{"field":"x1","type":"quantitative"},"x2":{"field":"x2"},"y":{"field":"y1","type":"quantitative"},"y2":{"field":"y2"}}},
    {"data":{"name":"bB"},"mark":{"type":"text","fontSize":13,"align":"center","baseline":"middle","color":"#111"},
     "encoding":{"x":{"field":"xm","type":"quantitative"},"y":{"field":"ym","type":"quantitative"},"text":{"field":"t"}}},
    {"data":{"name":"bK"},"mark":{"type":"text","fontSize":18,"fontWeight":"bold","align":"left","baseline":"middle","color":"#111"},
     "encoding":{"x":{"field":"w","type":"quantitative"},"y":{"field":"i","type":"quantitative"},"text":{"field":"t"}}}
   ]}
 ],"columns":1,"spacing":33,"bounds":"full",
 "resolve":{"scale":{"stroke":"independent","fill":"independent"}}},
 {"width":550,"height":424,"view":{"stroke":null},
  "layer":[
   {"data":{"name":"cF"},"mark":{"type":"rect","fillOpacity":0,"stroke":"#222","strokeWidth":1.5},
    "encoding":{
     "x":{"field":"x1","type":"quantitative","scale":{"domain":[-1.823,50.96],"nice":false,"zero":false},
       "axis":{"title":"t, min","domain":false,"values":[0,5,10,15,20,25,30,35,40,45,50],"labelExpr":"datum.value % 10 === 0 ? datum.label : ''","labelFontSize":15,"titleFontSize":21,"tickSize":5,"labelPadding":3,"titlePadding":4,"labelFlush":false,"labelOverlap":false}},
     "x2":{"field":"x2"},
     "y":{"field":"y1","type":"quantitative","scale":{"domain":[-0.25,13.25],"nice":false,"zero":false},
       "axis":{"title":"Band height ratio","domain":false,"offset":-7,"values":[0,1,2,3,4,5,6,7,8,9,10,11,12,13],"labelExpr":"datum.value % 2 === 0 ? datum.label : ''","labelFontSize":15,"titleFontSize":22,"tickSize":5,"labelPadding":5,"titlePadding":5,"labelOverlap":false}},
     "y2":{"field":"y2"}}},
   {"data":{"name":"cD"},"mark":{"type":"line","strokeWidth":1,"opacity":0.8},
    "encoding":{
     "x":{"field":"t","type":"quantitative"},
     "y":{"field":"r","type":"quantitative"},
     "order":{"field":"o","type":"quantitative"},
     "stroke":{"field":"s","type":"nominal","scale":{"domain":["1400/1353 cm⁻¹, exc. 785 nm","1549/1586 cm⁻¹, exc. 785 nm","1226/1268 cm⁻¹, exc. 785 nm","1400/1353 cm⁻¹, exc. 633 nm","1549/1586 cm⁻¹, exc. 633 nm"],"range":["#000000","#ff2020","#20e020","#1010ff","#00e8f0"]},"legend":null}}},
   {"data":{"name":"cD"},"mark":{"type":"point","shape":"square","filled":true,"size":90,"opacity":1},
    "encoding":{"x":{"field":"t","type":"quantitative"},"y":{"field":"r","type":"quantitative"},
     "color":{"field":"s","type":"nominal","scale":{"domain":["1400/1353 cm⁻¹, exc. 785 nm","1549/1586 cm⁻¹, exc. 785 nm","1226/1268 cm⁻¹, exc. 785 nm","1400/1353 cm⁻¹, exc. 633 nm","1549/1586 cm⁻¹, exc. 633 nm"],"range":["#000000","#ff0000","#00e000","#0000ff","#00ffff"]},
       "legend":{"title":null,"orient":"none","legendX":171,"legendY":1130,"symbolType":"M-2,-0.07H2V0.07H-2ZM-0.7,-0.7H0.7V0.7H-0.7Z","symbolSize":169,"symbolOpacity":1,"labelFontSize":16.5,"labelColor":"#222","labelLimit":400,"strokeColor":"#444","fillColor":"white","padding":12,"rowPadding":12,"labelOffset":6}}}},
   {"data":{"name":"cK"},"mark":{"type":"text","fontSize":18,"fontWeight":"bold","align":"left","baseline":"middle","color":"#111"},
    "encoding":{"x":{"field":"t","type":"quantitative"},"y":{"field":"r","type":"quantitative"},"text":{"field":"lab"}}}
  ]}
],
"columns":1,"spacing":39,"bounds":"full",
"resolve":{"scale":{"stroke":"independent","fill":"independent"}}
}
